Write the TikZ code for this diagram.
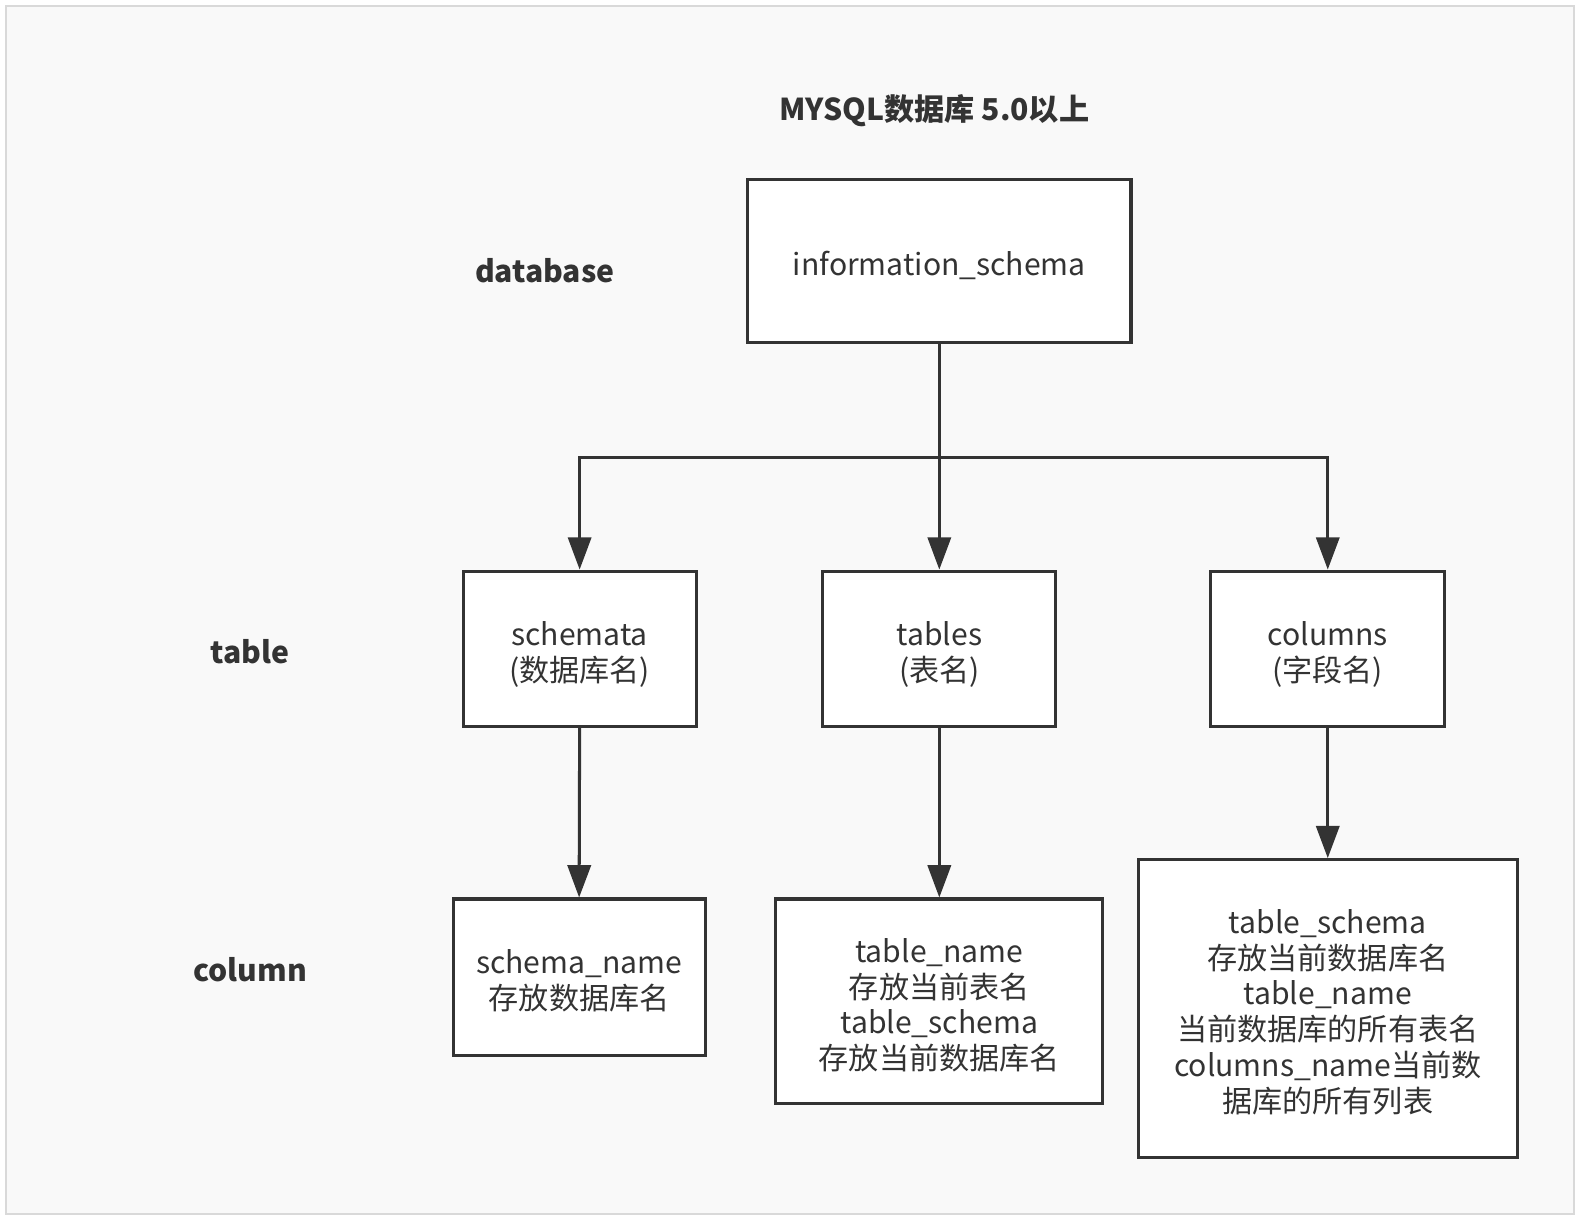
\documentclass[tikz,border=0pt]{standalone}
\usepackage{fontspec}
\setmainfont{Noto Sans CJK SC}
\usepackage{tikz}
\usetikzlibrary{arrows.meta,positioning}
\definecolor{inkgray}{HTML}{333333}
\definecolor{panelgray}{HTML}{F9F9F9}
\newcommand{\boxtext}[1]{\raisebox{-0.15cm}[\height][\depth]{\begin{tabular}{@{}c@{}}#1\end{tabular}}}

\begin{document}
\begin{tikzpicture}[x=0.02cm,y=-0.02cm,
    table box/.style={draw=inkgray,fill=white,line width=0.06cm,rectangle,align=center,
      text=inkgray,font=\fontsize{17}{19.9}\selectfont,inner sep=0pt},
    level label/.style={text=inkgray,font=\fontsize{17}{20}\selectfont\bfseries},
    link/.style={draw=inkgray,line width=0.06cm,-{Triangle[width=0.46cm,length=0.64cm]}}]
    \useasboundingbox (0,0) rectangle (1566,1208);
    \draw [draw=black!15,fill=panelgray,line width=0.04cm] (6,6) rectangle (1560,1203);

    \node [level label] (title) at (926,110) {MYSQL数据库 5.0以上};
    \node [level label] (database) at (540,268) {database};
    \node [level label] (table) at (248,646) {table};
    \node [level label] (column) at (248,961) {column};

    \node [table box,minimum width=7.6cm,minimum height=3.22cm] (info) at (931,258.5) {%
      \boxtext{information\_schema}%
    };
    \node [table box,minimum width=4.62cm,minimum height=3.08cm] (schemata) at (574.5,643) {%
      \boxtext{schemata\\(数据库名)}%
    };
    \node [table box,minimum width=4.62cm,minimum height=3.08cm] (tables) at (931,643) {%
      \boxtext{tables\\(表名)}%
    };
    \node [table box,minimum width=4.64cm,minimum height=3.08cm] (columns) at (1316,643) {%
      \boxtext{columns\\(字段名)}%
    };
    \node [table box,minimum width=5cm,minimum height=3.1cm] (schemaname) at (574,968.5) {%
      \boxtext{schema\_name\\存放数据库名}%
    };
    \node [table box,minimum width=6.48cm,minimum height=4.06cm] (tablename) at (931,992.5) {%
      \boxtext{table\_name\\存放当前表名\\table\_schema\\存放当前数据库名}%
    };
    \node [table box,minimum width=7.52cm,minimum height=5.9cm] (columnname) at (1316,999.5) {%
      \boxtext{table\_schema\\存放当前数据库名\\table\_name\\当前数据库的所有表名\\columns\_name当前数\\据库的所有列表}%
    };

    \coordinate (fork) at (931,453);
    \draw [draw=inkgray,line width=0.06cm] (info.south) -- (fork);
    \draw [link] (fork) -| (schemata.north);
    \draw [link] (fork) -- (tables.north);
    \draw [link] (fork) -| (columns.north);
    \draw [link] (schemata.south) -- (schemaname.north);
    \draw [link] (tables.south) -- (tablename.north);
    \draw [link] (columns.south) -- (columnname.north);
  \end{tikzpicture}
\end{document}
